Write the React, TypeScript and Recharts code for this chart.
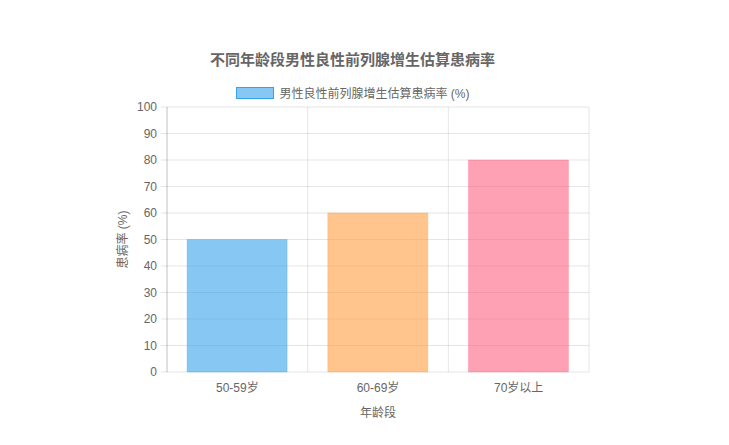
import { BarChart, Bar, XAxis, YAxis, CartesianGrid, Legend, Cell } from "recharts";

const ageGroups = ["50-59岁", "60-69岁", "70岁以上"];
const prevalence = [50, 60, 80];
const barColors = ["54, 162, 235", "255, 159, 64", "255, 99, 132"];
const yTicks = [0, 10, 20, 30, 40, 50, 60, 70, 80, 90, 100];
const gridTicks = [0, 1, 2, 3];

const seriesName = "男性良性前列腺增生估算患病率 (%)";
const font = '"Helvetica Neue", Helvetica, Arial, "Noto Sans CJK SC", sans-serif';

const data = ageGroups.map((name, i) => ({ name, idx: i + 0.5, value: prevalence[i] }));

const LegendBox = () => (
  <div style={{ display: "flex", justifyContent: "center", alignItems: "center", fontFamily: font, fontSize: 12, color: "#666" }}>
    <span
      style={{
        display: "inline-block",
        width: 36,
        height: 10,
        background: `rgba(${barColors[0]}, 0.6)`,
        border: `1px solid rgb(${barColors[0]})`,
        marginRight: 6,
      }}
    />
    <span>{seriesName}</span>
  </div>
);

const YLabel = ({ viewBox }: any) => {
  const x = viewBox.x + viewBox.width - 44;
  const y = viewBox.y + viewBox.height / 2;
  return (
    <text x={x} y={y} transform={`rotate(-90, ${x}, ${y})`} textAnchor="middle" dominantBaseline="central" fill="#666" fontSize={12} fontFamily={font}>
      患病率 (%)
    </text>
  );
};

export default function App() {
  return (
    <div style={{ position: "absolute", left: 0, top: 0, width: 729, height: 445, background: "#fff" }}>
      <div
        style={{
          position: "absolute",
          left: 0,
          width: 705,
          top: 48,
          textAlign: "center",
          fontFamily: font,
          fontSize: 15,
          fontWeight: "bold",
          color: "#666",
          zIndex: 1,
        }}
      >
        不同年龄段男性良性前列腺增生估算患病率
      </div>
      <BarChart width={729} height={445} data={data} margin={{ top: 90, right: 140, bottom: 0, left: 0 }} barCategoryGap="14.3%">
        <CartesianGrid xAxisId="grid" stroke="rgba(0,0,0,0.1)" />
        <XAxis
          xAxisId="grid"
          dataKey="idx"
          type="number"
          domain={[0, 3]}
          ticks={gridTicks}
          height={0}
          tick={() => <g />}
          tickSize={8}
          tickLine={{ stroke: "rgba(0,0,0,0.1)" }}
          axisLine={{ stroke: "rgba(0,0,0,0.25)" }}
        />
        <XAxis
          dataKey="name"
          height={73}
          tickSize={0}
          tickMargin={11}
          tickLine={false}
          axisLine={false}
          tick={{ fill: "#666", fontSize: 12, fontFamily: font }}
          label={{ value: "年龄段", position: "insideBottom", offset: 28, fill: "#666", fontSize: 12, fontFamily: font }}
        />
        <YAxis
          domain={[0, 100]}
          ticks={yTicks}
          width={167}
          tickSize={6}
          tickMargin={4}
          tickLine={{ stroke: "rgba(0,0,0,0.1)" }}
          axisLine={{ stroke: "rgba(0,0,0,0.15)" }}
          tick={{ fill: "#666", fontSize: 12, fontFamily: font }}
          label={<YLabel />}
        />
        <Legend verticalAlign="top" wrapperStyle={{ top: 84, left: 0, width: 705 }} content={<LegendBox />} />
        <Bar dataKey="value" name={seriesName} isAnimationActive={false} strokeWidth={1}>
          {data.map((_, i) => (
            <Cell key={i} fill={`rgba(${barColors[i]}, 0.6)`} stroke={`rgba(${barColors[i]}, 0.3)`} />
          ))}
        </Bar>
      </BarChart>
    </div>
  );
}
